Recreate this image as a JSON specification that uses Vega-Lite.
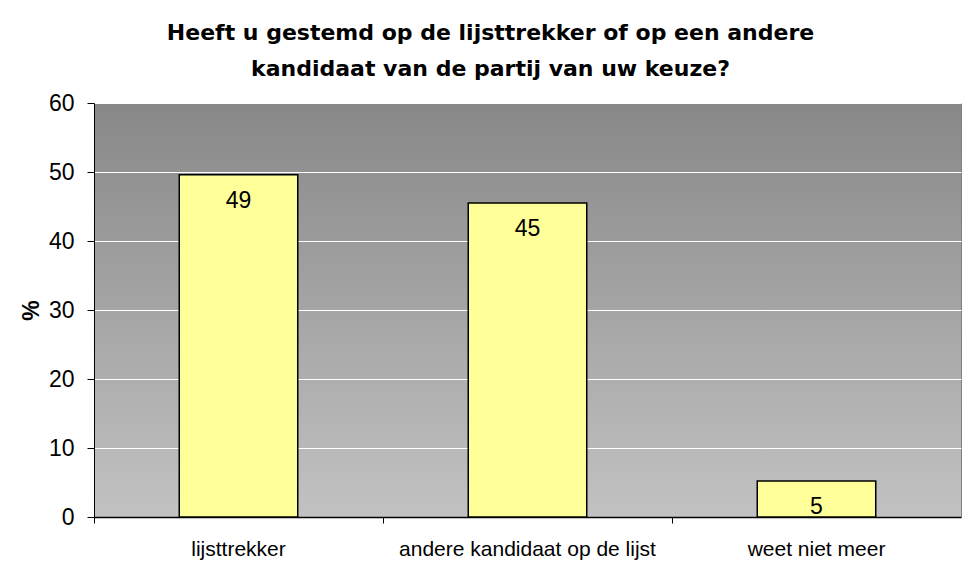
{
  "$schema": "https://vega.github.io/schema/vega-lite/v6.json",
  "width": 867,
  "height": 414,
  "autosize": {"type": "none"},
  "padding": {"left": 94, "top": 103, "right": 4, "bottom": 58},
  "background": "white",
  "title": {
    "text": ["Heeft u gestemd op de lijsttrekker of op een andere", "kandidaat van de partij van uw keuze?"],
    "font": "DejaVu Sans",
    "fontSize": 22,
    "fontWeight": "bold",
    "color": "black",
    "anchor": "middle",
    "frame": "group",
    "dx": -37,
    "lineHeight": 36,
    "offset": 11
  },
  "config": {
    "view": {
      "stroke": "#808080",
      "strokeWidth": 1,
      "fill": {
        "gradient": "linear",
        "x1": 0, "y1": 0, "x2": 0, "y2": 1,
        "stops": [
          {"offset": 0, "color": "#888888"},
          {"offset": 1, "color": "#c2c2c2"}
        ]
      }
    },
    "font": "Liberation Sans"
  },
  "data": {
    "values": [
      {"cat": "lijsttrekker", "pct": 49.6, "label": "49"},
      {"cat": "andere kandidaat op de lijst", "pct": 45.5, "label": "45"},
      {"cat": "weet niet meer", "pct": 5.2, "label": "5"}
    ]
  },
  "encoding": {
    "x": {
      "field": "cat",
      "type": "nominal",
      "sort": null,
      "scale": {"paddingInner": 0, "paddingOuter": 0}
    },
    "y": {
      "field": "pct",
      "type": "quantitative",
      "scale": {"domain": [0, 60], "nice": false},
      "axis": {
        "values": [0, 10, 20, 30, 40, 50, 60],
        "title": "%",
        "titleFontSize": 23,
        "titleFontWeight": "bold",
        "titleColor": "black",
        "titlePadding": 5,
        "labelFontSize": 23,
        "labelColor": "black",
        "labelPadding": 13,
        "tickColor": "black",
        "tickSize": 7,
        "domainColor": "black",
        "grid": true,
        "gridColor": "white",
        "gridWidth": 1,
        "gridOpacity": 1
      }
    }
  },
  "layer": [
    {
      "mark": {"type": "bar", "width": {"band": 0.41}, "fill": "#ffff99", "stroke": "black", "strokeWidth": 1.5},
      "encoding": {
        "x": {
          "field": "cat",
          "type": "nominal",
          "sort": null,
          "axis": {
            "orient": "bottom",
            "title": null,
            "labelAngle": 0,
            "labelFontSize": 21,
            "labelLimit": 0,
            "labelColor": "black",
            "labelPadding": 21,
            "ticks": false,
            "domainColor": "black",
            "domainWidth": 1.5
          }
        }
      }
    },
    {
      "mark": {"type": "text", "fontSize": 23, "baseline": "alphabetic", "dy": 33, "color": "black"},
      "encoding": {
        "x": {
          "field": "cat",
          "type": "nominal",
          "sort": null,
          "axis": {
            "orient": "bottom",
            "title": null,
            "labels": false,
            "domain": false,
            "ticks": true,
            "bandPosition": 0,
            "tickColor": "black",
            "tickSize": 6
          }
        },
        "text": {"field": "label"}
      }
    }
  ],
  "resolve": {"axis": {"x": "independent"}}
}
